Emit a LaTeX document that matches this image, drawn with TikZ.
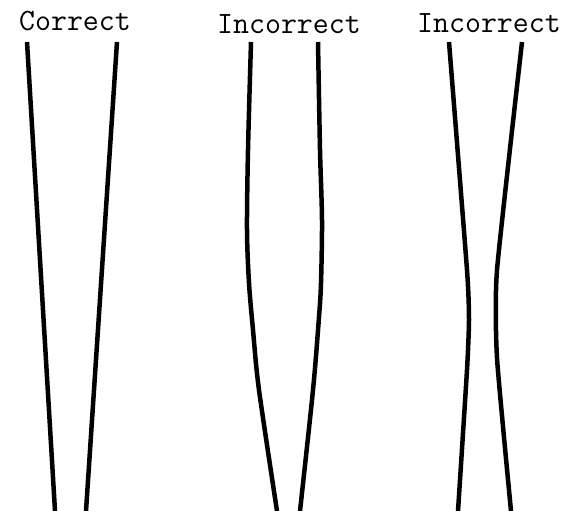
\documentclass[tikz,border=0pt]{standalone}
\usepackage{fontspec}
\usetikzlibrary{positioning}
\tikzset{
  tstrand/.style={line width=4.5pt, black},
  tlbl/.style={font=\fontsize{31}{33}\selectfont\ttfamily, inner sep=0pt},
}
\begin{document}
\begin{tikzpicture}[x=1pt, y=-1pt]
  \useasboundingbox (0,0) rectangle (578,511);
  % labels
  \node[tlbl] (correct) at (75,21) {Correct};
  \node[tlbl] (wrongA) at (289,24) {Incorrect};
  \node[tlbl] (wrongB) at (489,23) {Incorrect};
  % correct pair: straight, converging
  \draw[tstrand] (27,42) -- (55,511);
  \draw[tstrand] (117,42) -- (86,511);
  % first incorrect pair: parallel, then bending in
  \draw[tstrand] plot[smooth] coordinates {(251,42) (248,150) (247,230) (249,283) (253,330) (259,390) (277,511)};
  \draw[tstrand] plot[smooth] coordinates {(318,42) (320,150) (322,220) (321,283) (319,317) (313,390) (300,511)};
  % second incorrect pair: waist in the middle
  \draw[tstrand] plot[smooth, tension=0.3] coordinates {(449,42) (467,270) (469,320) (467,370) (458,511)};
  \draw[tstrand] plot[smooth, tension=0.3] coordinates {(522,42) (497,270) (497,358) (511,511)};
\end{tikzpicture}
\end{document}
